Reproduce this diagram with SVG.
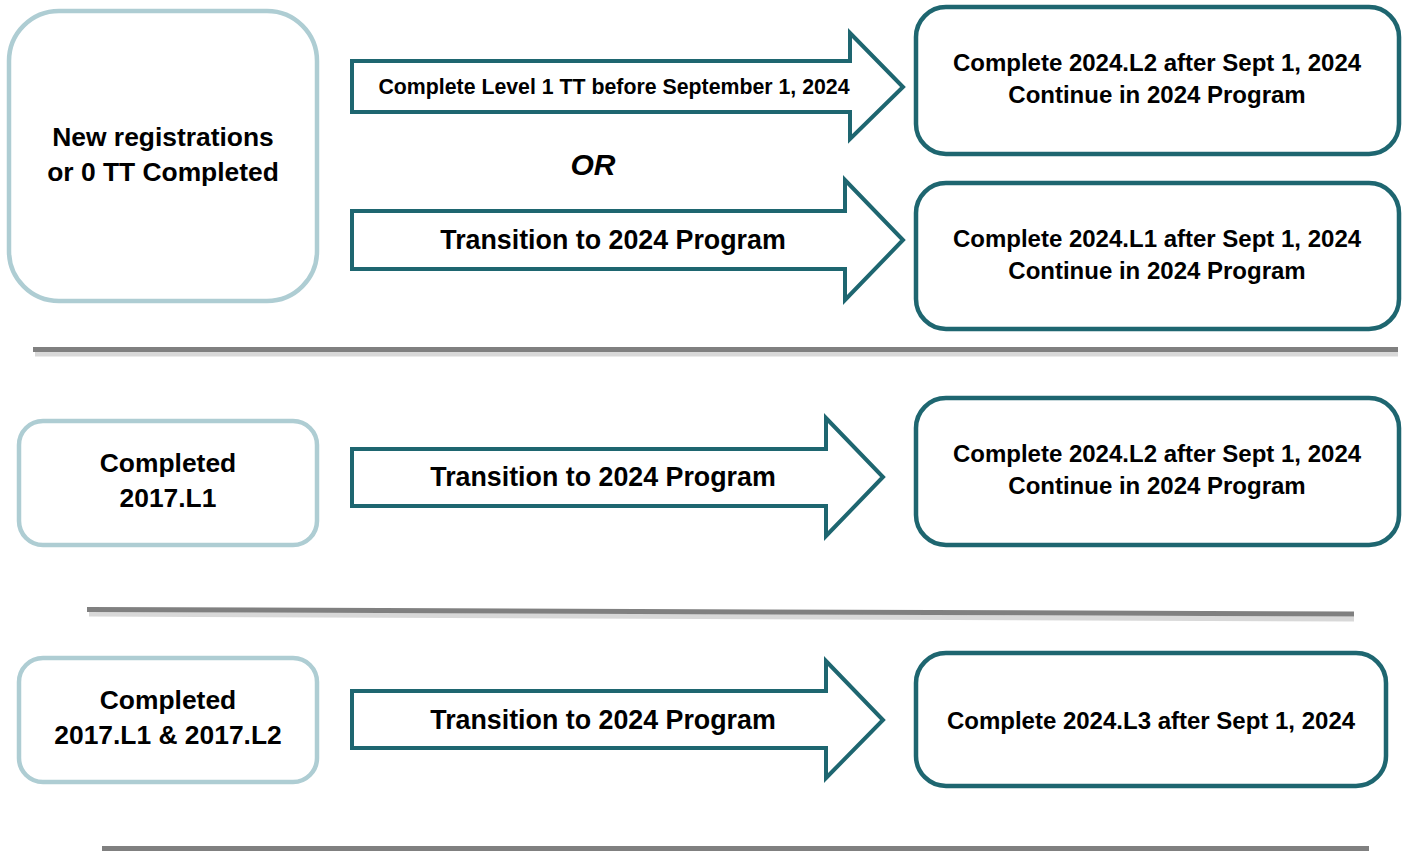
<svg xmlns="http://www.w3.org/2000/svg" width="1405" height="852" viewBox="0 0 1405 852">
<defs>
<style>
.t{font-family:"Liberation Sans",Arial,sans-serif;font-weight:bold;fill:#000;text-anchor:middle}
.light{fill:#fff;stroke:#aecdd3;stroke-width:4.5}
.dark{fill:#fff;stroke:#1e6670;stroke-width:4.5}
.arrow{fill:#fff;stroke:#1e6670;stroke-width:4;stroke-linejoin:miter}
.div{stroke:#808080;stroke-width:5;fill:none}
.shadow{stroke:#d8d8d8;stroke-width:5;fill:none}
</style>
</defs>
<rect width="1405" height="852" fill="#fff"/>
<g id="dividers">
<line class="shadow" x1="35" y1="354" x2="1398" y2="354"/>
<line class="div" x1="33" y1="349.5" x2="1398" y2="349.5"/>
<line class="shadow" x1="89" y1="614" x2="1354" y2="619"/>
<line class="div" x1="87" y1="609.5" x2="1354" y2="614"/>
<line class="div" x1="102" y1="848.5" x2="1369" y2="848.5"/>
</g>
<g id="n1">
<rect class="light" x="9" y="11" width="308" height="290" rx="50"/>
<text class="t" font-size="26.4" x="163" y="146">New registrations</text>
<text class="t" font-size="26.4" x="163" y="181">or 0 TT Completed</text>
</g>
<g id="n3">
<rect class="light" x="19" y="421" width="298" height="124" rx="24"/>
<text class="t" font-size="26.4" x="168" y="472">Completed</text>
<text class="t" font-size="26.4" x="168" y="507">2017.L1</text>
</g>
<g id="n4">
<rect class="light" x="19" y="658" width="298" height="124" rx="24"/>
<text class="t" font-size="26.4" x="168" y="709">Completed</text>
<text class="t" font-size="26.4" x="168" y="744">2017.L1 &amp; 2017.L2</text>
</g>
<g id="r1">
<rect class="dark" x="916" y="7" width="483" height="147" rx="30"/>
<text class="t" font-size="24" x="1157" y="71">Complete 2024.L2 after Sept 1, 2024</text>
<text class="t" font-size="24" x="1157" y="103">Continue in 2024 Program</text>
</g>
<g id="r2">
<rect class="dark" x="916" y="183" width="483" height="146" rx="30"/>
<text class="t" font-size="24" x="1157" y="247">Complete 2024.L1 after Sept 1, 2024</text>
<text class="t" font-size="24" x="1157" y="279">Continue in 2024 Program</text>
</g>
<g id="r3">
<rect class="dark" x="916" y="398" width="483" height="147" rx="30"/>
<text class="t" font-size="24" x="1157" y="462">Complete 2024.L2 after Sept 1, 2024</text>
<text class="t" font-size="24" x="1157" y="494">Continue in 2024 Program</text>
</g>
<g id="r4">
<rect class="dark" x="916" y="653" width="470" height="133" rx="30"/>
<text class="t" font-size="24" x="1151" y="729">Complete 2024.L3 after Sept 1, 2024</text>
</g>
<g id="connectors">
<g id="a1">
<polygon class="arrow" points="352,61 850,61 850,33 903,87 850,139 850,112 352,112"/>
<text class="t" font-size="21.3" x="614" y="94">Complete Level 1 TT before September 1, 2024</text>
</g>
<text class="t" font-size="30" font-style="italic" x="593" y="175">OR</text>
<g id="a2">
<polygon class="arrow" points="352,211 845,211 845,180 903,240 845,300 845,269 352,269"/>
<text class="t" font-size="26.8" x="613" y="249">Transition to 2024 Program</text>
</g>
<g id="a3">
<polygon class="arrow" points="352,449 826,449 826,418 883,477 826,536 826,506 352,506"/>
<text class="t" font-size="26.8" x="603" y="486">Transition to 2024 Program</text>
</g>
<g id="a4">
<polygon class="arrow" points="352,691 826,691 826,661 883,720 826,778 826,748 352,748"/>
<text class="t" font-size="26.8" x="603" y="729">Transition to 2024 Program</text>
</g>
</g>
</svg>
